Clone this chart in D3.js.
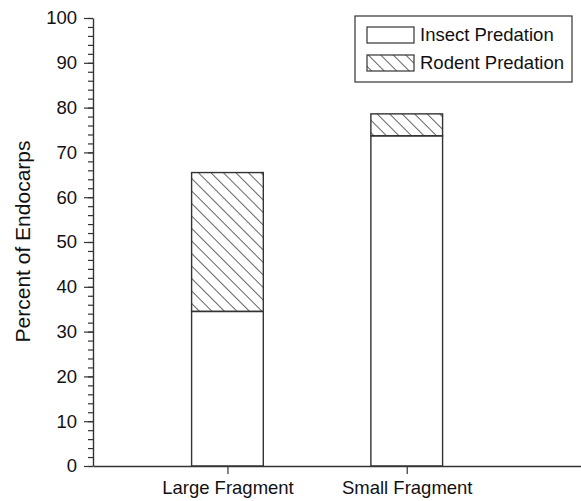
<!DOCTYPE html>
<meta charset="utf-8">
<style>
  body { margin: 0; background: #fff; }
  text { font-family: "Liberation Sans", Arial, sans-serif; fill: #111; }
</style>
<body>
<svg width="581" height="501"></svg>
<script src="https://d3js.org/d3.v7.min.js"></script>
<script>

var categories = ["Large Fragment", "Small Fragment"];
var insect = [34.5, 73.7];
var rodent = [31.0, 4.9];
var seriesNames = ["Insect Predation", "Rodent Predation"];
var yTicks = [0, 10, 20, 30, 40, 50, 60, 70, 80, 90, 100];

var svg = d3.select("svg"),
    width = +svg.attr("width"),
    height = +svg.attr("height");

var ink = "#333";
var fs = "18.5px";

// hatch for rodent predation
var defs = svg.append("defs");
defs.append("pattern")
    .attr("id", "hatch")
    .attr("patternUnits", "userSpaceOnUse")
    .attr("width", 8.84)
    .attr("height", 8.84)
    .attr("patternTransform", "rotate(-45)")
  .append("line")
    .attr("x1", 0).attr("y1", 0)
    .attr("x2", 0).attr("y2", 8.84)
    .attr("stroke", "#222")
    .attr("stroke-width", 1.4);

var y = d3.scaleLinear().domain([0, 100]).range([466, 18]);
var x = d3.scaleLinear().domain([0.25, 3]).range([93, 586]);
var barW = 0.4;

// bars
var g = svg.append("g");
categories.forEach(function(c, i) {
  var cx = i + 1;
  var x0 = x(cx - barW / 2), x1 = x(cx + barW / 2);
  g.append("rect")
      .attr("x", x0).attr("width", x1 - x0)
      .attr("y", y(insect[i])).attr("height", y(0) - y(insect[i]))
      .attr("fill", "#fff").attr("stroke", ink).attr("stroke-width", 1.4);
  g.append("rect")
      .attr("x", x0).attr("width", x1 - x0)
      .attr("y", y(insect[i] + rodent[i])).attr("height", y(insect[i]) - y(insect[i] + rodent[i]))
      .attr("fill", "url(#hatch)").attr("stroke", ink).attr("stroke-width", 1.4);
});

// y axis, minor then major
svg.append("g")
    .attr("transform", "translate(93,0)")
    .call(d3.axisLeft(y).tickValues(d3.range(0, 101, 2)).tickSize(5).tickFormat(""))
    .call(a => a.select(".domain").remove())
    .call(a => a.selectAll("line").attr("stroke", ink).attr("stroke-width", 1.2));

var yAxis = svg.append("g")
    .attr("transform", "translate(93,0)")
    .call(d3.axisLeft(y).tickValues(yTicks).tickSize(9).tickPadding(7).tickSizeOuter(0));
yAxis.select(".domain").attr("stroke", ink).attr("stroke-width", 1.4);
yAxis.selectAll("line").attr("stroke", ink).attr("stroke-width", 1.2);
yAxis.selectAll("text").style("font-size", fs).style("font-family", "'Liberation Sans', Arial, sans-serif").attr("fill", "#111");

// x axis
var xAxis = svg.append("g")
    .attr("transform", "translate(0,466)")
    .call(d3.axisBottom(x).tickValues([1, 2]).tickFormat(function(d) { return categories[d - 1]; })
      .tickSize(8).tickPadding(7).tickSizeOuter(0));
xAxis.select(".domain").attr("stroke", ink).attr("stroke-width", 1.4);
xAxis.selectAll("line").attr("stroke", ink).attr("stroke-width", 1.2);
xAxis.selectAll("text").style("font-size", fs).style("font-family", "'Liberation Sans', Arial, sans-serif").attr("fill", "#111");

// y title
svg.append("text")
    .attr("transform", "translate(30,241.5) rotate(-90)")
    .attr("text-anchor", "middle")
    .style("font-size", "21px")
    .text("Percent of Endocarps");

// legend
var leg = svg.append("g");
leg.append("rect")
    .attr("x", 355).attr("y", 16).attr("width", 217).attr("height", 66)
    .attr("fill", "#fff").attr("stroke", ink).attr("stroke-width", 1.2);
seriesNames.forEach(function(s, i) {
  var sy = 27 + i * 28;
  leg.append("rect")
      .attr("x", 367).attr("y", sy).attr("width", 47).attr("height", 16)
      .attr("fill", i ? "url(#hatch)" : "#fff")
      .attr("stroke", ink).attr("stroke-width", 1.2);
  leg.append("text")
      .attr("x", 420).attr("y", sy + 8)
      .attr("dy", "0.35em")
      .style("font-size", fs)
      .text(s);
});

</script>
</body>
